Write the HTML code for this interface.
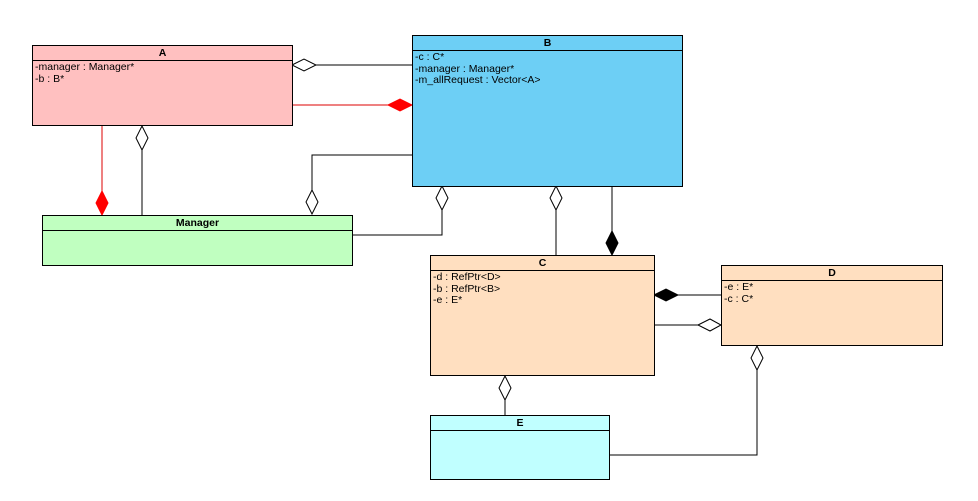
<!DOCTYPE html>
<html><head><style>
body{margin:0;background:#fff;}
.c{position:absolute;border:1px solid #000;box-sizing:border-box;font-family:"Liberation Sans",sans-serif;font-size:10.5px;}
.h{height:14px;border-bottom:1px solid #000;text-align:center;font-weight:bold;line-height:14px;}
.a{padding:1px 2px;line-height:11.5px;}
</style></head><body>
<div style="position:relative;width:978px;height:501px;overflow:hidden">
<svg width="978" height="501" style="position:absolute;left:0;top:0" stroke="#000" fill="none">
<line x1="316" y1="65" x2="412" y2="65"/>
<polygon points="292,65 304,59 316,65 304,71" fill="#fff"/>
<line x1="292" y1="105" x2="388" y2="105" stroke="#d00"/>
<polygon points="388,105 400,99 412,105 400,111" fill="#f00" stroke="#f00"/>
<line x1="102" y1="125" x2="102" y2="191" stroke="#d00"/>
<polygon points="102,191 108,203 102,215 96,203" fill="#f00" stroke="#f00"/>
<line x1="142" y1="150" x2="142" y2="215"/>
<polygon points="142,126 148,138 142,150 136,138" fill="#fff"/>
<polyline points="412,155 312,155 312,190"/>
<polygon points="312,190 318,202 312,214 306,202" fill="#fff"/>
<polyline points="352,235 442,235 442,210"/>
<polygon points="442,186 448,198 442,210 436,198" fill="#fff"/>
<line x1="556" y1="210" x2="556" y2="255"/>
<polygon points="556,186 562,198 556,210 550,198" fill="#fff"/>
<line x1="612" y1="186" x2="612" y2="231"/>
<polygon points="612,231 618,243 612,255 606,243" fill="#000"/>
<line x1="678" y1="295" x2="721" y2="295"/>
<polygon points="654,295 666,289 678,295 666,301" fill="#000"/>
<line x1="654" y1="325" x2="698" y2="325"/>
<polygon points="698,325 710,319 721,325 710,331" fill="#fff"/>
<line x1="505" y1="400" x2="505" y2="415"/>
<polygon points="505,376 511,388 505,400 499,388" fill="#fff"/>
<polyline points="757,370 757,455 609,455"/>
<polygon points="757,346 763,358 757,370 751,358" fill="#fff"/>
</svg>
<div class="c" style="left:32px;top:45px;width:261px;height:81px;background:#ffc0c0"><div class="h">A</div><div class="a">-manager : Manager*<br>-b : B*</div></div>
<div class="c" style="left:412px;top:35px;width:271px;height:152px;background:#6dcff5"><div class="h">B</div><div class="a">-c : C*<br>-manager : Manager*<br>-m_allRequest : Vector&lt;A&gt;</div></div>
<div class="c" style="left:42px;top:215px;width:311px;height:51px;background:#c0ffc0"><div class="h">Manager</div></div>
<div class="c" style="left:430px;top:255px;width:225px;height:121px;background:#ffdfc0"><div class="h">C</div><div class="a">-d : RefPtr&lt;D&gt;<br>-b : RefPtr&lt;B&gt;<br>-e : E*</div></div>
<div class="c" style="left:721px;top:265px;width:222px;height:81px;background:#ffdfc0"><div class="h">D</div><div class="a">-e : E*<br>-c : C*</div></div>
<div class="c" style="left:430px;top:415px;width:180px;height:65px;background:#c0ffff"><div class="h">E</div></div>
</div>
</body></html>
